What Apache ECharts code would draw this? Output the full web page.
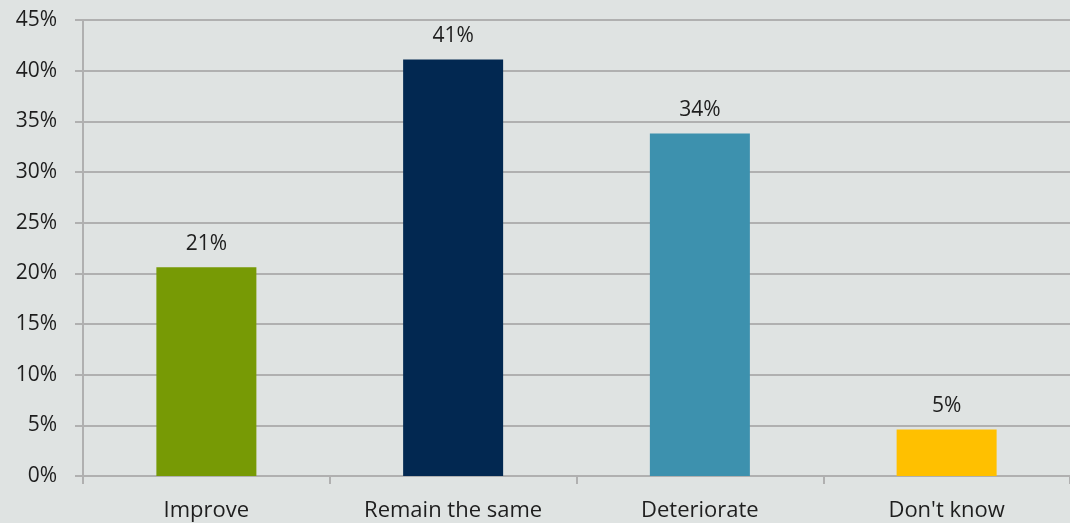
<!DOCTYPE html>
<html><head><meta charset="utf-8">
<script src="https://cdn.jsdelivr.net/npm/echarts@6/dist/echarts.min.js"></script>
<style>html,body{margin:0;padding:0;background:#dfe3e2;}#c{width:1070px;height:523px;}</style>
</head><body><div id="c"></div>
<script>
const categories = ["Improve", "Remain the same", "Deteriorate", "Don't know"];
const values = [20.6, 41.1, 33.8, 4.6];
const valueLabels = ["21%", "41%", "34%", "5%"];
const barColors = ["#779a05", "#022851", "#3d91ae", "#ffc000"];
const yTicks = [0, 5, 10, 15, 20, 25, 30, 35, 40, 45];

const chart = echarts.init(document.getElementById('c'));
const font = "'Open Sans', 'Noto Sans', sans-serif";
chart.setOption({
  backgroundColor: '#dfe3e2',
  animation: false,
  grid: { left: 83, top: 20, width: 996, height: 456, containLabel: false },
  xAxis: {
    type: 'category', data: categories,
    axisLine: { show: true, lineStyle: { color: '#b0b0b0', width: 2 } },
    axisTick: { show: true, length: 8, lineStyle: { color: '#b0b0b0', width: 2 } },
    axisLabel: { color: '#1e1e1e', fontSize: 22, fontFamily: font, margin: 24 }
  },
  yAxis: {
    type: 'value', min: 0, max: 45, interval: 5,
    axisLine: { show: true, lineStyle: { color: '#b0b0b0', width: 2 } },
    axisTick: { show: true, length: 8, lineStyle: { color: '#b0b0b0', width: 2 } },
    splitLine: { show: true, lineStyle: { color: '#b0b0b0', width: 2 } },
    axisLabel: { color: '#1e1e1e', fontSize: 21, fontFamily: font, margin: 26,
      formatter: v => yTicks.includes(v) ? v + '%' : '' }
  },
  series: [{
    type: 'bar', barWidth: 100,
    data: values.map((v, i) => ({ value: v, itemStyle: { color: barColors[i] } })),
    label: { show: true, position: 'top', distance: 13, color: '#1e1e1e', fontSize: 21, fontFamily: font,
      formatter: p => valueLabels[p.dataIndex] }
  }]
});
</script></body></html>
